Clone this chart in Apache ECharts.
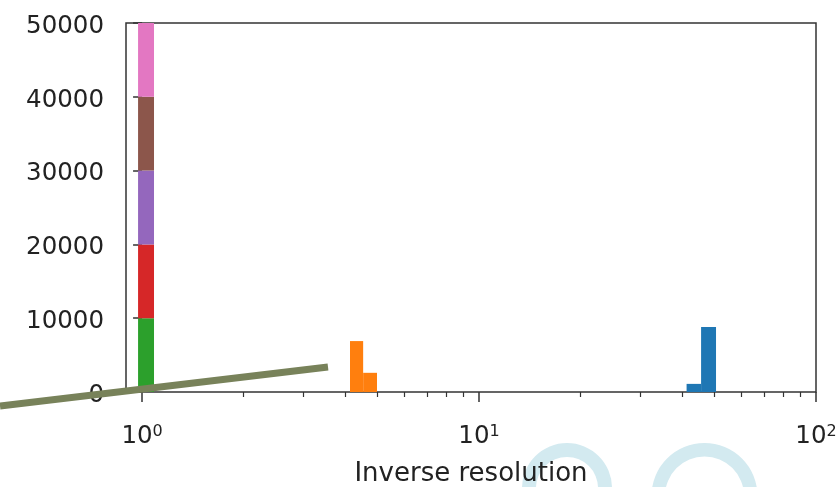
<!DOCTYPE html>
<html><head><meta charset="utf-8">
<script src="https://cdn.jsdelivr.net/npm/echarts@6/dist/echarts.min.js"></script>
<style>html,body{margin:0;padding:0;background:#fff}#c{width:838px;height:487px}</style>
</head><body><div id="c"></div>
<script>
// Histogram bins per dataset: [left edge, right edge, count]
const blueBins   = [[41.3, 45.6, 1100], [45.6, 50.5, 8800]];
const orangeBins = [[4.14, 4.53, 6900], [4.53, 4.98, 2600]];
const greenBins  = [[0.973, 1.085, 10000]];
const redBins    = [[0.973, 1.085, 10000]];
const purpleBins = [[0.973, 1.085, 10000]];
const brownBins  = [[0.973, 1.085, 10000]];
const pinkBins   = [[0.973, 1.085, 10000]];
const datasets = [blueBins, orangeBins, greenBins, redBins, purpleBins, brownBins, pinkBins];
const seriesColors = ['#1f77b4', '#ff7f0e', '#2ca02c', '#d62728', '#9467bd', '#8c564b', '#e377c2'];

const xMajorTicks = [1, 10, 100];
const xMinorTicks = [2, 3, 4, 5, 6, 7, 8, 9, 20, 30, 40, 50, 60, 70, 80, 90];
const yTicks = [0, 10000, 20000, 30000, 40000, 50000];
const xMin = 0.896, xMax = 100;
const xTitle = 'Inverse resolution';

// stacking
const baseByBin = {};
const series = datasets.map((bins, i) => {
  const data = bins.map(b => {
    const key = b[0].toFixed(3);
    const base = baseByBin[key] || 0;
    baseByBin[key] = base + b[2];
    return [b[0], b[1], base, base + b[2]];
  });
  return {
    type: 'custom', xAxisIndex: 0, yAxisIndex: 0, clip: true, z: 2,
    encode: { x: [0, 1], y: [2, 3] },
    data: data,
    renderItem: (params, api) => {
      const p0 = api.coord([api.value(0), api.value(3)]);
      const p1 = api.coord([api.value(1), api.value(2)]);
      return { type: 'rect', shape: { x: p0[0], y: p0[1], width: p1[0] - p0[0], height: p1[1] - p0[1] },
               style: { fill: seriesColors[i] } };
    }
  };
});

const font = 'DejaVu Sans';
const txt = '#222';
const chart = echarts.init(document.getElementById('c'), null, { renderer: 'canvas' });
chart.setOption({
  animation: false,
  backgroundColor: '#fff',
  grid: { left: 126, right: 22, top: 23, bottom: 95, show: true, borderColor: '#333', borderWidth: 1.5,
          backgroundColor: 'transparent', containLabel: false, outerBoundsMode: 'none' },
  xAxis: [
    { type: 'log', logBase: 10, min: xMin, max: xMax, position: 'bottom',
      axisLine: { show: false }, axisTick: { show: false }, axisLabel: { show: false }, splitLine: { show: false } },
    { type: 'value', min: Math.log10(xMin), max: Math.log10(xMax), position: 'bottom',
      name: xTitle, nameLocation: 'middle', nameGap: 69,
      nameTextStyle: { fontFamily: font, fontSize: 26, color: txt },
      axisLine: { show: false }, splitLine: { show: false },
      axisTick: { show: true, length: 10, customValues: xMajorTicks.map(v => Math.log10(v)), lineStyle: { color: '#333', width: 1.5 } },
      axisLabel: { show: true, customValues: xMajorTicks.map(v => Math.log10(v)), margin: 32,
        formatter: v => '{b|10}{s|' + Math.round(v) + '}',
        rich: { b: { fontFamily: font, fontSize: 24.5, color: txt },
                s: { fontFamily: font, fontSize: 16, color: txt, verticalAlign: 'top', padding: [0, 0, 8, 0] } } } },
    { type: 'value', min: Math.log10(xMin), max: Math.log10(xMax), position: 'bottom',
      axisLine: { show: false }, splitLine: { show: false }, axisLabel: { show: false },
      axisTick: { show: true, length: 5, customValues: xMinorTicks.map(v => Math.log10(v)), lineStyle: { color: '#333', width: 1.2 } } }
  ],
  yAxis: [{
    type: 'value', min: yTicks[0], max: yTicks[yTicks.length - 1], interval: 10000,
    axisLine: { show: false }, splitLine: { show: false },
    axisTick: { show: true, length: 9, lineStyle: { color: '#333', width: 1.5 } },
    axisLabel: { margin: 22, formatter: v => '{a|' + v + '}',
      rich: { a: { fontFamily: font, fontSize: 24.5, color: txt, padding: [7, 0, 0, 0] } } }
  }],
  series: series,
  graphic: [
    { type: 'ring', z: -10, shape: { cx: 567, cy: 488, r: 45, r0: 31 }, style: { fill: '#d3eaf0' } },
    { type: 'ring', z: -10, shape: { cx: 704.5, cy: 496, r: 53, r0: 39.5 }, style: { fill: '#d3eaf0' } },
    { type: 'line', z: 100, shape: { x1: 0, y1: 406, x2: 328, y2: 367 }, style: { stroke: '#78825a', lineWidth: 7, lineCap: 'butt' } }
  ]
});
</script></body></html>
